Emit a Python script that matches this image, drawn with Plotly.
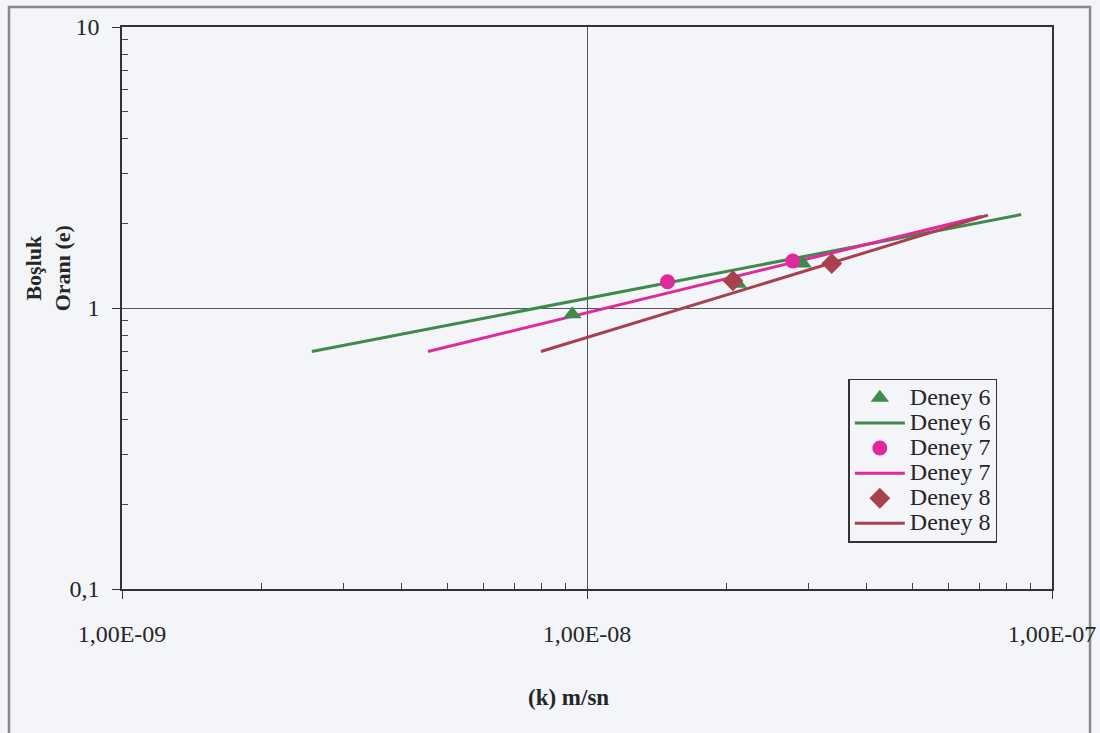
import plotly.graph_objects as go

# Permeability k (m/sn) and void ratio e for each test
k_deney6 = [9.3e-9, 2.11e-8, 2.91e-8]
e_deney6 = [0.95, 1.22, 1.44]
k_deney7 = [1.49e-8, 2.77e-8]
e_deney7 = [1.24, 1.47]
k_deney8 = [2.06e-8, 3.36e-8]
e_deney8 = [1.25, 1.44]

# Power-law trend lines (end points)
k_fit6 = [2.56e-9, 8.58e-8]
e_fit6 = [0.70, 2.15]
k_fit7 = [4.55e-9, 7.07e-8]
e_fit7 = [0.70, 2.12]
k_fit8 = [7.96e-9, 7.28e-8]
e_fit8 = [0.70, 2.14]

x_tickvals = [1e-9, 1e-8, 1e-7]
x_ticktext = ["1,00E-09", "1,00E-08", "1,00E-07"]
y_tickvals = [0.1, 1, 10]
y_ticktext = ["0,1", "1", "10"]

GREEN = "#3d8a4c"
PINK = "#e02a9c"
BROWN = "#a8404e"
BG = "#f3f5f9"
FONT = "'Liberation Serif', 'DejaVu Serif', serif"
TXT = "#262626"


def legend_label(name):
    # larger glyphs than the row height the legend reserves
    return f'<span style="font-size:24px">{name}</span>'


fig = go.Figure()

# trend lines drawn first so the markers sit on top
fig.add_trace(go.Scatter(x=k_fit6, y=e_fit6, mode="lines", name=legend_label("Deney 6"),
                         line=dict(color=GREEN, width=3), legendrank=2))
fig.add_trace(go.Scatter(x=k_fit7, y=e_fit7, mode="lines", name=legend_label("Deney 7"),
                         line=dict(color=PINK, width=3), legendrank=4))
fig.add_trace(go.Scatter(x=k_fit8, y=e_fit8, mode="lines", name=legend_label("Deney 8"),
                         line=dict(color=BROWN, width=3), legendrank=6))
fig.add_trace(go.Scatter(x=k_deney6, y=e_deney6, mode="markers", name=legend_label("Deney 6"),
                         marker=dict(symbol="triangle-up", size=16, color=GREEN),
                         legendrank=1))
fig.add_trace(go.Scatter(x=k_deney7, y=e_deney7, mode="markers", name=legend_label("Deney 7"),
                         marker=dict(symbol="circle", size=15, color=PINK),
                         legendrank=3))
fig.add_trace(go.Scatter(x=k_deney8, y=e_deney8, mode="markers", name=legend_label("Deney 8"),
                         marker=dict(symbol="diamond", size=16, color=BROWN),
                         legendrank=5))

x_minor = [m * 10.0 ** p for p in (-9, -8) for m in range(2, 10)]
y_minor = [m * 10.0 ** p for p in (-1, 0) for m in range(2, 10)]

axis_common = dict(
    showline=True, linecolor="#333333", linewidth=1.5, mirror=True,
    showgrid=True, gridcolor="#555555", gridwidth=1,
    ticks="outside", ticklen=8, tickcolor="#333333",
    zeroline=False, automargin=False,
    tickfont=dict(family=FONT, size=24, color=TXT),
)

fig.update_xaxes(
    type="log", range=[-9, -7],
    tickmode="array", tickvals=x_tickvals, ticktext=x_ticktext,
    ticklabelstandoff=14,
    minor=dict(tickmode="array", tickvals=x_minor, ticks="inside",
               ticklen=6, tickcolor="#444444", showgrid=False),
    **axis_common,
)
fig.update_yaxes(
    type="log", range=[-1, 1],
    tickmode="array", tickvals=y_tickvals, ticktext=y_ticktext,
    ticklabelstandoff=8,
    minor=dict(tickmode="array", tickvals=y_minor, ticks="inside",
               ticklen=6, tickcolor="#444444", showgrid=False),
    **axis_common,
)

fig.update_layout(
    width=1100, height=733,
    margin=dict(l=122, r=48, t=27, b=144),
    paper_bgcolor=BG, plot_bgcolor=BG,
    font=dict(family=FONT, color=TXT),
    showlegend=True,
    legend=dict(
        x=0.781, y=0.374, xanchor="left", yanchor="top",
        bgcolor=BG, bordercolor="#333333", borderwidth=1.5,
        font=dict(family=FONT, size=17, color=TXT),
        itemwidth=50, tracegroupgap=0,
    ),
    annotations=[
        dict(text="<b>Boşluk<br>Oranı (e)</b>", textangle=-90,
             xref="paper", yref="paper", x=-0.08, y=0.57,
             xanchor="center", yanchor="middle", showarrow=False,
             font=dict(family=FONT, size=22, color=TXT)),
        dict(text="<b>(k) m/sn</b>",
             xref="paper", yref="paper", x=0.4796, y=-0.193,
             xanchor="center", yanchor="middle", showarrow=False,
             font=dict(family=FONT, size=23, color=TXT)),
    ],
    shapes=[
        dict(type="rect", xref="paper", yref="paper",
             x0=-0.1215, x1=1.0409, y0=-0.28, y1=1.0355,
             line=dict(color="#8a8a8a", width=2.5), layer="below"),
    ],
)

fig.write_html("out.html")
